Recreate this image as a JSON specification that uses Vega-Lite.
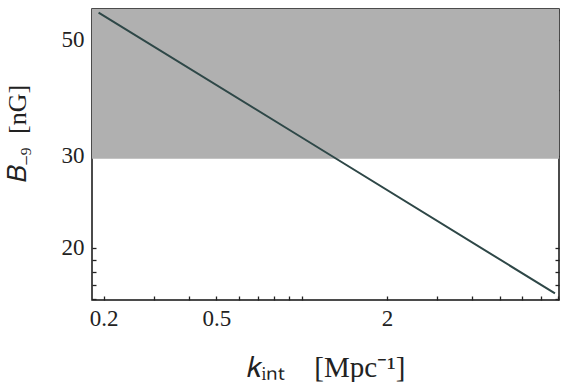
{
  "$schema": "https://vega.github.io/schema/vega-lite/v6.json",
  "width": 467,
  "height": 291,
  "autosize": "none",
  "padding": {"left": 92, "top": 9, "right": 2, "bottom": 82},
  "background": "white",
  "config": {
    "view": {"stroke": "#111111", "strokeWidth": 1.5},
    "font": "Liberation Serif",
    "axis": {
      "labelFont": "Liberation Serif",
      "titleFont": "Liberation Serif",
      "labelColor": "#222222",
      "titleColor": "#222222",
      "titleFontWeight": "normal",
      "tickColor": "#222222",
      "tickWidth": 1.3,
      "grid": false,
      "domain": false
    }
  },
  "datasets": {
    "band": [{"k1": 0.182, "k2": 8.08, "b1": 29.6, "b2": 57.2}],
    "curve": [
      {"k": 0.192, "B": 56.3},
      {"k": 1.0, "B": 32.5},
      {"k": 7.82, "B": 16.37}
    ]
  },
  "layer": [
    {
      "data": {"name": "band"},
      "mark": {"type": "rect", "color": "#b0b0b0"},
      "encoding": {
        "x": {
          "field": "k1", "type": "quantitative",
          "scale": {"type": "log", "domain": [0.182, 8.08], "nice": false},
          "axis": {
            "orient": "bottom",
            "values": [0.2, 0.3, 0.4, 0.5, 0.6, 0.7, 0.8, 0.9, 1, 2, 3, 4, 5, 6, 7, 8],
            "labelExpr": "datum.value == 0.2 || datum.value == 0.5 || datum.value == 2 ? format(datum.value, '~g') : ''",
            "tickSize": -4,
            "labelPadding": 11,
            "labelFont": "Liberation Serif",
            "labelFontSize": 23,
            "labelFlush": false,
            "title": "𝑘ᵢₙₜ\u2003[Mpc⁻¹]",
            "titleFont": "Liberation Serif",
            "titleFontSize": 29,
            "titleBaseline": "alphabetic",
            "titleY": 76
          }
        },
        "x2": {"field": "k2"},
        "y": {
          "field": "b1", "type": "quantitative",
          "scale": {"type": "log", "domain": [15.9, 57.2], "nice": false},
          "axis": {
            "orient": "left",
            "values": [16, 17, 18, 19, 20, 30, 40, 50],
            "labelExpr": "datum.value == 20 || datum.value == 30 || datum.value == 50 ? format(datum.value, 'd') : ''",
            "tickSize": -4,
            "labelPadding": 12,
            "labelFont": "Liberation Serif",
            "labelFontSize": 23,
            "labelFlush": false,
            "title": "𝐵₋₉\u2002[nG]",
            "titleFont": "Liberation Serif",
            "titleFontSize": 26,
            "titleBaseline": "alphabetic",
            "titleX": -67,
            "titleY": 124
          }
        },
        "y2": {"field": "b2"}
      }
    },
    {
      "data": {"name": "curve"},
      "mark": {"type": "line", "color": "#2e4747", "strokeWidth": 2},
      "encoding": {
        "x": {
          "field": "k", "type": "quantitative",
          "scale": {"type": "log", "domain": [0.182, 8.08], "nice": false},
          "axis": {
            "orient": "top",
            "values": [0.2, 0.3, 0.4, 0.5, 0.6, 0.7, 0.8, 0.9, 1, 2, 3, 4, 5, 6, 7, 8],
            "labels": false,
            "tickSize": -4,
            "title": null
          }
        },
        "y": {
          "field": "B", "type": "quantitative",
          "scale": {"type": "log", "domain": [15.9, 57.2], "nice": false},
          "axis": {
            "orient": "right",
            "values": [16, 17, 18, 19, 20, 30, 40, 50],
            "labels": false,
            "tickSize": -4,
            "title": null
          }
        }
      }
    }
  ],
  "resolve": {"axis": {"x": "independent", "y": "independent"}}
}
